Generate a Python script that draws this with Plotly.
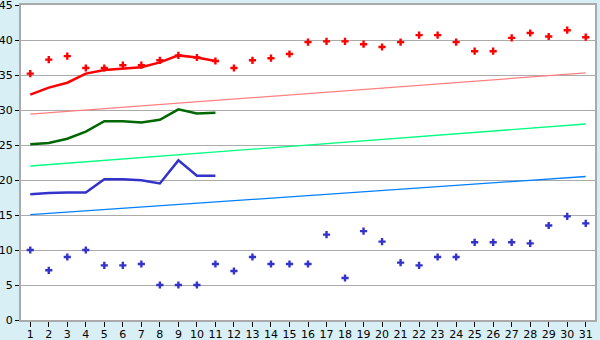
import plotly.graph_objects as go

days = list(range(1, 32))
day_labels = [str(d) for d in days]

red_points = [35.2, 37.2, 37.7, 36.0, 36.0, 36.4, 36.4, 37.1, 37.8, 37.5, 37.0,
              36.0, 37.1, 37.4, 38.0, 39.7, 39.8, 39.8, 39.4, 39.0, 39.7, 40.7,
              40.7, 39.7, 38.4, 38.4, 40.3, 41.0, 40.5, 41.4, 40.4]
red_line = [32.2, 33.2, 33.9, 35.2, 35.7, 35.9, 36.1, 36.8, 37.8, 37.5, 37.0]
red_trend = [29.4, 35.3]

green_line = [25.1, 25.3, 25.9, 26.9, 28.4, 28.4, 28.2, 28.6, 30.1, 29.5, 29.6]
green_trend = [22.0, 28.0]

blue_line = [17.95, 18.15, 18.2, 18.2, 20.1, 20.1, 19.95, 19.5, 22.8, 20.6, 20.6]
blue_trend = [15.05, 20.5]

blue_points = [10.0, 7.1, 9.0, 10.0, 7.8, 7.8, 8.0, 5.0, 5.0, 5.0, 8.0,
               7.0, 9.0, 8.0, 8.0, 8.0, 12.2, 6.0, 12.7, 11.2, 8.2, 7.8,
               9.0, 9.0, 11.1, 11.1, 11.1, 10.95, 13.5, 14.8, 13.8]

trend_x = [1, 31]

fig = go.Figure()

fig.add_trace(go.Scatter(x=trend_x, y=red_trend, mode="lines",
                         line=dict(color="#ff8080", width=1.3)))
fig.add_trace(go.Scatter(x=trend_x, y=green_trend, mode="lines",
                         line=dict(color="#00ff80", width=1.3)))
fig.add_trace(go.Scatter(x=trend_x, y=blue_trend, mode="lines",
                         line=dict(color="#0080ff", width=1.3)))

fig.add_trace(go.Scatter(x=days[:11], y=green_line, mode="lines",
                         line=dict(color="#006600", width=2.5)))
fig.add_trace(go.Scatter(x=days[:11], y=blue_line, mode="lines",
                         line=dict(color="#3333cc", width=2.5)))
fig.add_trace(go.Scatter(x=days[:11], y=red_line, mode="lines",
                         line=dict(color="#ff0000", width=2.5)))

fig.add_trace(go.Scatter(x=days, y=red_points, mode="markers",
                         marker=dict(symbol="cross", size=6, color="#ff0000",
                                     line=dict(width=0))))
fig.add_trace(go.Scatter(x=days, y=blue_points, mode="markers",
                         marker=dict(symbol="cross", size=6, color="#3333cc",
                                     line=dict(width=0))))

fig.update_layout(
    width=600, height=340,
    margin=dict(l=21, r=5, t=5, b=20),
    paper_bgcolor="#d9eff6",
    plot_bgcolor="#ffffff",
    showlegend=False,
    font=dict(family="DejaVu Sans", size=11, color="#000000"),
    xaxis=dict(
        range=[0.5, 31.5], automargin=False,
        tickmode="array", tickvals=days, ticktext=day_labels,
        showgrid=False, zeroline=False,
        ticks="outside", ticklen=5, tickcolor="#000000", tickwidth=1,
        showline=True, linecolor="#aaaaaa", linewidth=2, mirror=True,
        tickfont=dict(size=11), ticklabelstandoff=-2,
        ticklabeloverflow="allow",
    ),
    yaxis=dict(
        range=[0, 45], dtick=5, automargin=False,
        showgrid=True, gridcolor="#aaaaaa", gridwidth=1,
        zeroline=False,
        ticks="outside", ticklen=4, tickcolor="#000000", tickwidth=1,
        showline=True, linecolor="#aaaaaa", linewidth=2, mirror=True,
        tickfont=dict(size=11), ticklabeloverflow="allow",
    ),
)

fig.write_html("out.html")
